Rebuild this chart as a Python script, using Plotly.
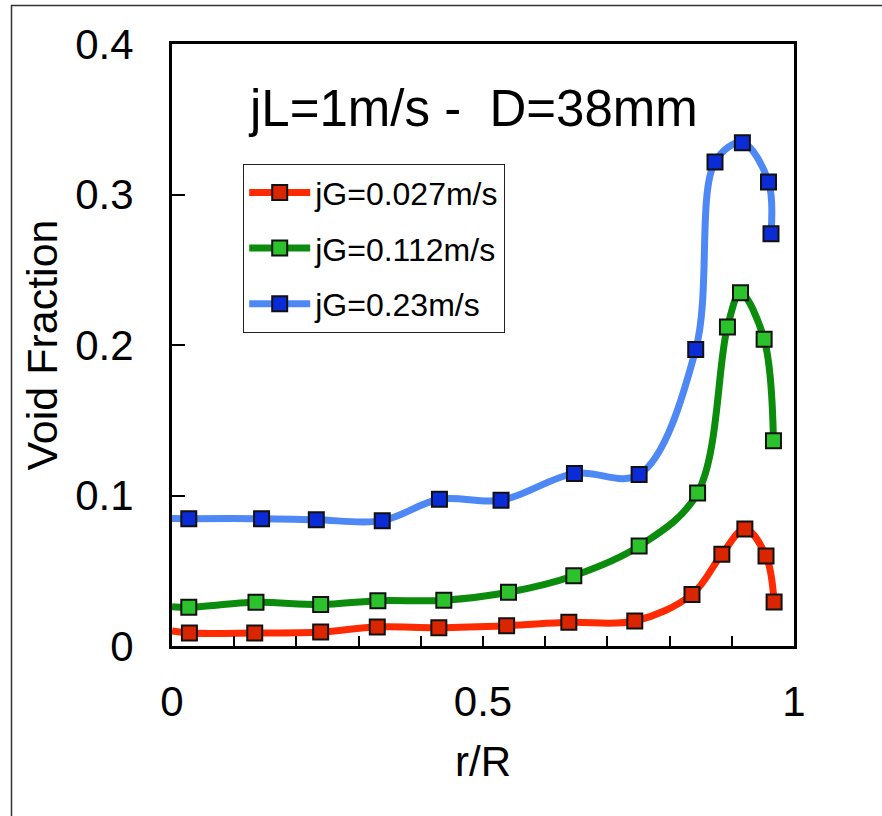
import plotly.graph_objects as go

# ---- data ----
r_red = [0.028, 0.133, 0.239, 0.330, 0.429, 0.538, 0.638, 0.744, 0.836, 0.884, 0.921, 0.955, 0.968]
v_red = [0.0086, 0.0086, 0.0093, 0.0127, 0.0122, 0.0135, 0.0157, 0.0166, 0.0343, 0.0610, 0.0777, 0.0598, 0.0292]
r_green = [0.027, 0.135, 0.239, 0.331, 0.437, 0.541, 0.646, 0.751, 0.845, 0.893, 0.914, 0.952, 0.967]
v_green = [0.0257, 0.0290, 0.0275, 0.0301, 0.0304, 0.0357, 0.0467, 0.0664, 0.1017, 0.2120, 0.2348, 0.2038, 0.1364]
r_blue = [0.027, 0.144, 0.232, 0.338, 0.430, 0.529, 0.647, 0.751, 0.842, 0.873, 0.917, 0.959, 0.963]
v_blue = [0.0846, 0.0846, 0.0839, 0.0833, 0.0975, 0.0968, 0.1147, 0.1139, 0.1970, 0.3216, 0.3344, 0.3083, 0.2740]
# fitted curve value at the wall-centre (r/R = 0)
v0_red, v0_green, v0_blue = 0.0100, 0.0261, 0.0847

names = ["jG=0.027m/s", "jG=0.112m/s", "jG=0.23m/s"]
line_colors = ["#ff2a00", "#0c8c0c", "#4d88f5"]
marker_colors = ["#d92500", "#2bc22b", "#0a2bd6"]

x_ticks = [0, 0.5, 1]
x_ticklabels = ["0", "0.5", "1"]
y_ticks = [0, 0.1, 0.2, 0.3, 0.4]
y_ticklabels = ["0", "0.1", "0.2", "0.3", "0.4"]

FONT = "Liberation Sans, Arial, sans-serif"

fig = go.Figure()
series = [(r_red, v_red, v0_red), (r_green, v_green, v0_green), (r_blue, v_blue, v0_blue)]
for i, (rr, vv, v0) in enumerate(series):
    fig.add_trace(go.Scatter(
        x=[0] + rr, y=[v0] + vv, mode="lines",
        line=dict(color=line_colors[i], width=7, shape="spline", smoothing=1.0),
        showlegend=False, hoverinfo="skip"))
for i, (rr, vv, v0) in enumerate(series):
    fig.add_trace(go.Scatter(
        x=rr, y=vv, mode="markers",
        marker=dict(symbol="square", size=15, color=marker_colors[i],
                    line=dict(color="#111111", width=2)),
        showlegend=False))
for i in range(3):
    fig.add_trace(go.Scatter(
        x=[None], y=[None], mode="lines+markers", name=names[i],
        legendgroup=str(i),
        line=dict(color=line_colors[i], width=7),
        marker=dict(symbol="square", size=15, color=marker_colors[i],
                    line=dict(color="#111111", width=2))))

# plot area geometry (pixels) used for frame placement in paper coords
L, R, T, B = 172, 88, 44, 170
W, H = 882, 816
pw, ph = W - L - R, H - T - B

def px_x(p):
    return (p - L) / pw

def px_y(p):
    return (H - B - p) / ph

fig.update_layout(
    width=W, height=H,
    margin=dict(l=L, r=R, t=T, b=B),
    paper_bgcolor="white", plot_bgcolor="white",
    font=dict(family=FONT, color="black", size=30),
    xaxis=dict(range=[0, 1], tickvals=x_ticks, ticktext=x_ticklabels,
               ticks="inside", ticklen=10, tickwidth=1.5, tickcolor="black",
               minor=dict(dtick=0.1, ticks="inside", ticklen=10, tickwidth=1.5, tickcolor="black"),
               showline=True, linewidth=3, linecolor="black", mirror=True,
               showgrid=False, zeroline=False,
               tickfont=dict(size=42, family=FONT), ticklabelstandoff=17,
               title=dict(text="r/R", font=dict(size=42, family=FONT), standoff=23)),
    yaxis=dict(range=[0, 0.4], tickvals=y_ticks, ticktext=y_ticklabels,
               ticks="inside", ticklen=13, tickwidth=1.5, tickcolor="black",
               showline=True, linewidth=3, linecolor="black", mirror=True,
               showgrid=False, zeroline=False,
               tickfont=dict(size=42, family=FONT), ticklabelstandoff=27,
               title=dict(text="Void Fraction", font=dict(size=43, family=FONT), standoff=5)),
    legend=dict(x=px_x(243), y=px_y(164), xanchor="left", yanchor="top",
                bgcolor="white", bordercolor="#222222", borderwidth=1.2,
                font=dict(size=32, family=FONT), itemwidth=61,
                tracegroupgap=11),
    annotations=[dict(text="jL=1m/s -  D=38mm", x=px_x(473), y=px_y(108),
                      xref="paper", yref="paper", showarrow=False,
                      font=dict(size=51, family=FONT), xanchor="center", yanchor="middle")],
    shapes=[
        dict(type="line", xref="paper", yref="paper", x0=px_x(11), x1=px_x(890),
             y0=px_y(5.5), y1=px_y(5.5), line=dict(color="#333333", width=1.5)),
        dict(type="line", xref="paper", yref="paper", x0=px_x(11.5), x1=px_x(11.5),
             y0=px_y(5), y1=px_y(830), line=dict(color="#333333", width=1.5)),
    ],
)

fig.write_html("out.html", config={"displayModeBar": False},
               post_script="document.body.style.margin='0px';")
